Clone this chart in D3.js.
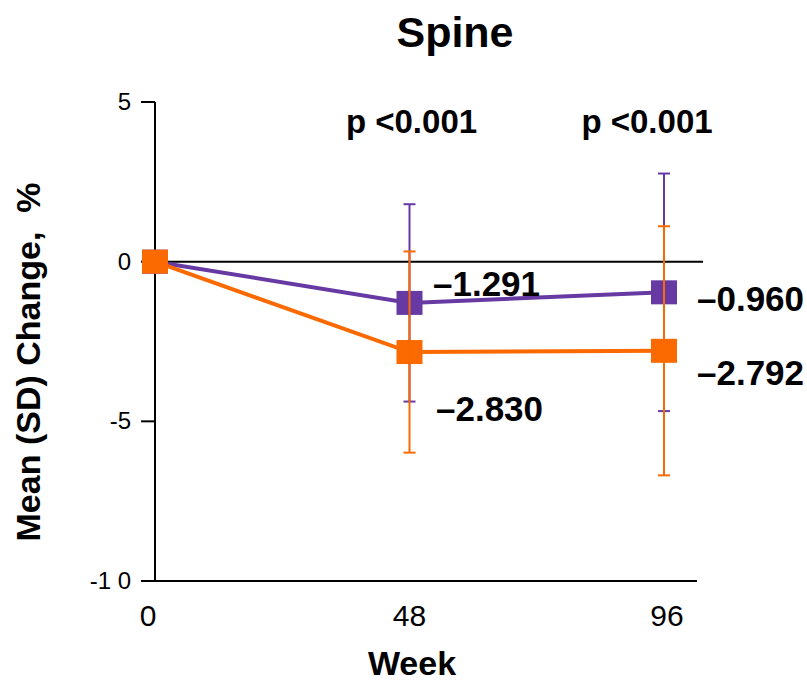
<!DOCTYPE html>
<html>
<head>
<meta charset="utf-8">
<script src="https://cdn.jsdelivr.net/npm/d3@7"></script>
<style>
  body { margin: 0; background: #fff; }
</style>
</head>
<body>
<script>
// data
const weeks = [0, 48, 96];
const purpleMean = [0, -1.291, -0.960];
const purpleSD = [0, 3.09, 3.72];
const orangeMean = [0, -2.830, -2.792];
const orangeSD = [0, 3.15, 3.90];
const yTicks = [5, 0, -5, -10];
const yTickLabels = ["5", "0", "-5", "-1 0"];
const pLabels = [
  { week: 48, text: "p <0.001" },
  { week: 96, text: "p <0.001" }
];
const purpleLabels = ["–1.291", "–0.960"];
const orangeLabels = ["–2.830", "–2.792"];

const width = 807, height = 681;
const purple = "#6739a3";
const orange = "#fa6a00";
const font = "Liberation Sans, Arial, sans-serif";

const svg = d3.select("body").append("svg")
  .attr("width", width)
  .attr("height", height)
  .style("font-family", font);

const x = d3.scaleLinear().domain([0, 96]).range([155, 664]);
const y = d3.scaleLinear().domain([-10, 5]).range([581, 102]);

// title
svg.append("text")
  .attr("x", 455).attr("y", 47)
  .attr("text-anchor", "middle")
  .style("font-size", "43px").style("font-weight", "700")
  .text("Spine");

// y axis
svg.append("line")
  .attr("x1", 155).attr("x2", 155)
  .attr("y1", y(5)).attr("y2", y(-10) + 1)
  .attr("stroke", "#000").attr("stroke-width", 2);

yTicks.forEach((t, i) => {
  svg.append("line")
    .attr("x1", 141).attr("x2", 155)
    .attr("y1", y(t)).attr("y2", y(t))
    .attr("stroke", "#000").attr("stroke-width", 2);
  svg.append("text")
    .attr("x", 131).attr("y", y(t) + 8)
    .attr("text-anchor", "end")
    .style("font-size", "24px")
    .style("white-space", "pre")
    .text(yTickLabels[i]);
});

// x axis
svg.append("line")
  .attr("x1", 155).attr("x2", 697)
  .attr("y1", y(-10)).attr("y2", y(-10))
  .attr("stroke", "#000").attr("stroke-width", 2);

weeks.forEach((w, i) => {
  svg.append("text")
    .attr("x", x(w) + (i === 0 ? -7 : i === 2 ? 3 : 0))
    .attr("y", 626)
    .attr("text-anchor", "middle")
    .style("font-size", "30px")
    .text(w);
});

// zero line
svg.append("line")
  .attr("x1", 155).attr("x2", 703)
  .attr("y1", y(0)).attr("y2", y(0))
  .attr("stroke", "#000").attr("stroke-width", 2);

// axis titles
svg.append("text")
  .attr("transform", `translate(40,362) rotate(-90)`)
  .attr("text-anchor", "middle")
  .style("font-size", "34px").style("font-weight", "700")
  .style("white-space", "pre")
  .text("Mean (SD) Change,  %");

svg.append("text")
  .attr("x", 412).attr("y", 675)
  .attr("text-anchor", "middle")
  .style("font-size", "34px").style("font-weight", "700")
  .text("Week");

// p-values (centred a little left of the last point, as in the reference)
pLabels.forEach((p, i) => {
  svg.append("text")
    .attr("x", x(p.week) + (i === 0 ? 2 : -17)).attr("y", 133)
    .attr("text-anchor", "middle")
    .style("font-size", "33px").style("font-weight", "700")
    .text(p.text);
});

function drawSeries(means, sds, color) {
  const g = svg.append("g");
  const line = d3.line().x((d, i) => x(weeks[i])).y(d => y(d));
  g.append("path")
    .datum(means)
    .attr("d", line)
    .attr("fill", "none")
    .attr("stroke", color)
    .attr("stroke-width", 4);

  weeks.forEach((w, i) => {
    if (sds[i] === 0) return;
    const top = y(means[i] + sds[i]);
    const bot = y(means[i] - sds[i]);
    g.append("line")
      .attr("x1", x(w)).attr("x2", x(w))
      .attr("y1", top).attr("y2", bot)
      .attr("stroke", color).attr("stroke-width", 2);
    [top, bot].forEach(yy => {
      g.append("line")
        .attr("x1", x(w) - 6).attr("x2", x(w) + 6)
        .attr("y1", yy).attr("y2", yy)
        .attr("stroke", color).attr("stroke-width", 2);
    });
  });

  weeks.forEach((w, i) => {
    g.append("rect")
      .attr("x", x(w) - 13).attr("y", y(means[i]) - 12)
      .attr("width", 26).attr("height", 24)
      .attr("fill", color);
  });

  // error bar stem shows through the markers
  weeks.forEach((w, i) => {
    if (sds[i] === 0) return;
    g.append("line")
      .attr("x1", x(w)).attr("x2", x(w))
      .attr("y1", y(means[i]) - 12).attr("y2", y(means[i]) + 12)
      .attr("stroke", color).attr("stroke-opacity", 0.5).attr("stroke-width", 2);
  });
}

drawSeries(purpleMean, purpleSD, purple);
drawSeries(orangeMean, orangeSD, orange);

// value labels
const labelStyle = sel => sel
  .style("font-size", "35px").style("font-weight", "700");

svg.append("text").attr("x", 433).attr("y", 296).call(labelStyle).text(purpleLabels[0]);
svg.append("text").attr("x", 697).attr("y", 311).call(labelStyle).text(purpleLabels[1]);
svg.append("text").attr("x", 436).attr("y", 421).call(labelStyle).text(orangeLabels[0]);
svg.append("text").attr("x", 697).attr("y", 385).call(labelStyle).text(orangeLabels[1]);
</script>
</body>
</html>
